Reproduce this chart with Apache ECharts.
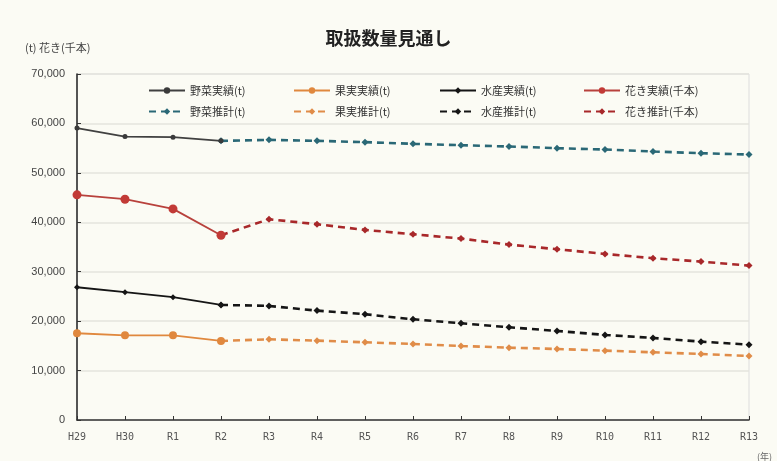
<!DOCTYPE html>
<html><head><meta charset="utf-8">
<script src="https://cdn.jsdelivr.net/npm/echarts@6/dist/echarts.min.js"></script>
<style>html,body{margin:0;padding:0;background:#fbfbf4}#c{width:777px;height:461px}</style>
</head><body><div id="c"></div>
<script>
const categories = ['H29','H30','R1','R2','R3','R4','R5','R6','R7','R8','R9','R10','R11','R12','R13'];
const vegActual   = [59050, 57350, 57220, 56480];
const fruitActual = [17550, 17140, 17140, 15990];
const fishActual  = [26860, 25850, 24840, 23280];
const flowerActual= [45550, 44670, 42710, 37380];
const vegProj    = [null,null,null,56480, 56680,56480,56210,55870,55600,55330,55000,54720,54320,53980,53700];
const fruitProj  = [null,null,null,15990, 16330,16050,15730,15380,14980,14640,14370,14030,13700,13360,12960];
const fishProj   = [null,null,null,23280, 23080,22130,21400,20380,19570,18760,18020,17210,16600,15850,15240];
const flowerProj = [null,null,null,37380, 40620,39610,38460,37580,36700,35490,34550,33600,32730,32050,31240];
const seriesNames = ['野菜実績(t)','果実実績(t)','水産実績(t)','花き実績(千本)','野菜推計(t)','果実推計(t)','水産推計(t)','花き推計(千本)'];

const JP = '"Noto Sans CJK JP", sans-serif';
const dash = [7,5];
function actual(name, data, color, symbol, size, lineColor){
  return {name, type:'line', data, symbol, symbolSize:size, showSymbol:true,
    lineStyle:{color:lineColor||color, width:1.8}, itemStyle:{color}, z:3};
}
function proj(name, data, color, size){
  return {name, type:'line', data, symbol:'diamond', symbolSize:size, showSymbol:true,
    lineStyle:{color, width:2.6, type:dash}, itemStyle:{color}, z:2};
}
const legendPos = [[143,80],[288,80],[434,80],[578,80],[143,101],[288,101],[434,101],[578,101]];
const legends = seriesNames.map((n,i)=>({
  data:[n], left:legendPos[i][0], top:legendPos[i][1], itemWidth:36, itemHeight:8, itemGap:4,
  textStyle:{fontFamily:JP, fontSize:11, color:'#333'}, selectedMode:false
}));

const chart = echarts.init(document.getElementById('c'));
chart.setOption({
  backgroundColor:'#fbfbf4',
  animation:false,
  title:[
    {text:'取扱数量見通し', left:'center', top:24, textStyle:{fontFamily:JP, fontSize:18, fontWeight:'bold', color:'#222'}},
    {text:'(t) 花き(千本)', left:20, top:37, textStyle:{fontFamily:JP, fontSize:11, fontWeight:'normal', color:'#444'}},
    {text:'(年)', left:752, top:447, textStyle:{fontFamily:JP, fontSize:9, fontWeight:'normal', color:'#666'}}
  ],
  legend: legends,
  grid:{left:77, right:28, top:74, bottom:41, show:true, borderColor:'#dddddd', borderWidth:1},
  xAxis:{type:'category', data:categories, boundaryGap:false,
    axisLine:{lineStyle:{color:'#333', width:1.5}},
    axisTick:{inside:true, length:4, lineStyle:{color:'#333'}},
    axisLabel:{fontFamily:'"DejaVu Sans Mono", monospace', fontSize:10, color:'#555', margin:12}},
  yAxis:{type:'value', min:0, max:70000, interval:10000,
    axisLine:{show:true, lineStyle:{color:'#222', width:1.5}},
    axisTick:{show:true, inside:true, length:4, lineStyle:{color:'#333'}},
    splitLine:{lineStyle:{color:'#e4e4de', width:1.5}},
    axisLabel:{fontFamily:'"Liberation Sans", sans-serif', fontSize:11, color:'#444', margin:12,
      formatter:v=>v.toLocaleString('en-US')}},
  series:[
    actual(seriesNames[0], vegActual, '#3a3a3a', 'circle', 5, '#404040'),
    actual(seriesNames[1], fruitActual, '#e0883e', 'circle', 8),
    actual(seriesNames[2], fishActual, '#151515', 'diamond', 6),
    actual(seriesNames[3], flowerActual, '#c23a36', 'circle', 9, '#b8413c'),
    proj(seriesNames[4], vegProj, '#2a6876', 7),
    proj(seriesNames[5], fruitProj, '#e08c48', 7),
    proj(seriesNames[6], fishProj, '#151515', 7),
    proj(seriesNames[7], flowerProj, '#a8282a', 7)
  ]
});
</script></body></html>
